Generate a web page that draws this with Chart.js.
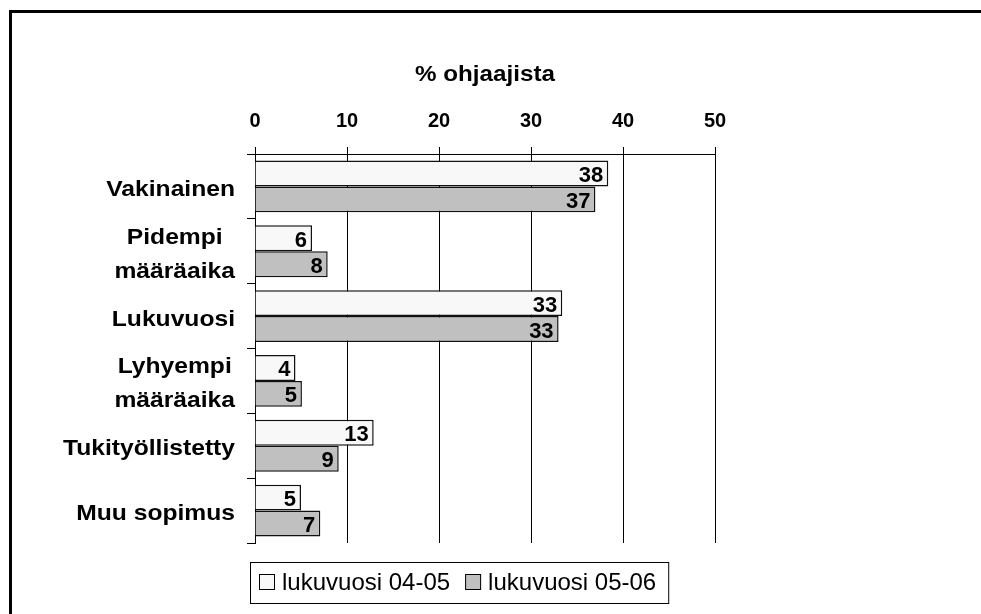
<!DOCTYPE html>
<html>
<head>
<meta charset="utf-8">
<script src="https://cdn.jsdelivr.net/npm/chart.js@4.4.1/dist/chart.umd.min.js"></script>
<style>
  html, body { margin: 0; padding: 0; background: #fff; }
  canvas { display: block; }
</style>
</head>
<body>
<canvas id="grafik" width="981" height="614"></canvas>
<script>
// data
const kategoriat = [["Vakinainen"], ["Pidempi", "määräaika"], ["Lukuvuosi"], ["Lyhyempi", "määräaika"], ["Tukityöllistetty"], ["Muu sopimus"]];
const sarjat = ["lukuvuosi 04-05", "lukuvuosi 05-06"];
const arvot0405 = [38.4, 6.2, 33.4, 4.4, 12.9, 5.0];
const arvot0506 = [37.0, 7.9, 33.0, 5.1, 9.1, 7.1];
const xTicks = [0, 10, 20, 30, 40, 50];
const otsikko = "% ohjaajista";

const FONT = '"Liberation Sans", Arial, sans-serif';
const varit = ["#f8f8f8", "#c0c0c0"];

function venytettyTeksti(ctx, txt, x, y, sx, align) {
    ctx.save();
    ctx.translate(x, y);
    ctx.scale(sx, 1);
    ctx.textAlign = align;
    ctx.fillText(txt, 0, 0);
    ctx.restore();
}

// kehys, otsikko, kategoriat, arvot ja selite
const piirrot = {
    id: "piirrot",
    beforeDraw(chart) {
        const ctx = chart.ctx;
        ctx.save();
        ctx.fillStyle = "#fff";
        ctx.fillRect(0, 0, chart.width, chart.height);
        ctx.fillStyle = "#000";
        ctx.fillRect(9, 10, 3, chart.height);
        ctx.fillRect(9, 10, chart.width, 3);
        ctx.restore();
    },
    afterDraw(chart) {
        const ctx = chart.ctx;
        const area = chart.chartArea;
        const yScale = chart.scales.y;
        ctx.save();
        ctx.fillStyle = "#000";
        ctx.textBaseline = "alphabetic";

        // otsikko
        ctx.font = "bold 22px " + FONT;
        venytettyTeksti(ctx, otsikko, (area.left + area.right) / 2, 81, 1.1, "center");

        // kategoriat
        ctx.font = "bold 22px " + FONT;
        const sx = 1.12;
        kategoriat.forEach((rivit, i) => {
            const yc = yScale.getPixelForValue(i);
            let maxW = 0;
            rivit.forEach(r => { maxW = Math.max(maxW, ctx.measureText(r).width * sx); });
            const cx = 235 - maxW / 2;
            rivit.forEach((r, j) => {
                const mid = yc + 1.5 + (j - (rivit.length - 1) / 2) * 34;
                venytettyTeksti(ctx, r, cx, mid + 8, sx, "center");
            });
        });

        // arvot palkkien päihin
        ctx.font = "bold 22px " + FONT;
        chart.data.datasets.forEach((ds, di) => {
            const meta = chart.getDatasetMeta(di);
            meta.data.forEach((el, i) => {
                const v = Math.round(ds.data[i]);
                ctx.textAlign = "right";
                ctx.fillText(String(v), el.x - 5, el.y + 8.5);
            });
        });

        // selite
        ctx.font = "24px " + FONT;
        const bx = 250, by = 562, bh = 41;
        let x = bx + 9;
        const paikat = [];
        sarjat.forEach((nimi, i) => {
            paikat.push(x);
            x += 16 + 7 + ctx.measureText(nimi).width + 15;
        });
        const bw = x - 15 + 12 - bx;
        ctx.lineWidth = 1;
        ctx.strokeStyle = "#000";
        ctx.strokeRect(bx + 0.5, by + 0.5, bw, bh);
        sarjat.forEach((nimi, i) => {
            const px = paikat[i];
            ctx.fillStyle = varit[i];
            ctx.fillRect(px, 574, 16, 16);
            ctx.strokeStyle = "#000";
            ctx.strokeRect(px + 0.5, 574.5, 15, 15);
            ctx.fillStyle = "#000";
            ctx.textAlign = "left";
            ctx.fillText(nimi, px + 23, 590);
        });
        ctx.restore();
    }
};

new Chart(document.getElementById("grafik"), {
    type: "bar",
    data: {
        labels: kategoriat,
        datasets: [
            { label: sarjat[0], data: arvot0405, backgroundColor: varit[0], borderColor: "#111", borderWidth: 1.5 },
            { label: sarjat[1], data: arvot0506, backgroundColor: varit[1], borderColor: "#111", borderWidth: 1.5 }
        ]
    },
    options: {
        indexAxis: "y",
        responsive: false,
        animation: false,
        events: [],
        categoryPercentage: 0.8,
        barPercentage: 1.0,
        layout: { padding: { left: 0, right: 266, top: 0, bottom: 71 } },
        plugins: {
            legend: { display: false },
            title: { display: false },
            tooltip: { enabled: false }
        },
        scales: {
            x: {
                position: "top",
                min: 0,
                max: 50,
                afterBuildTicks: s => { s.ticks = xTicks.map(v => ({ value: v })); },
                afterFit: s => { s.height = 154; },
                ticks: { color: "#000", padding: 14, font: { family: FONT, size: 20, weight: "bold" } },
                grid: { color: "#000", lineWidth: 1, tickLength: 7 },
                border: { display: true, color: "#000", width: 1 }
            },
            y: {
                afterFit: s => { s.width = 255; },
                ticks: { display: false },
                grid: { drawOnChartArea: false, offset: true, color: "#000", tickLength: 8 },
                border: { display: true, color: "#000", width: 1 }
            }
        }
    },
    plugins: [piirrot]
});
</script>
</body>
</html>
